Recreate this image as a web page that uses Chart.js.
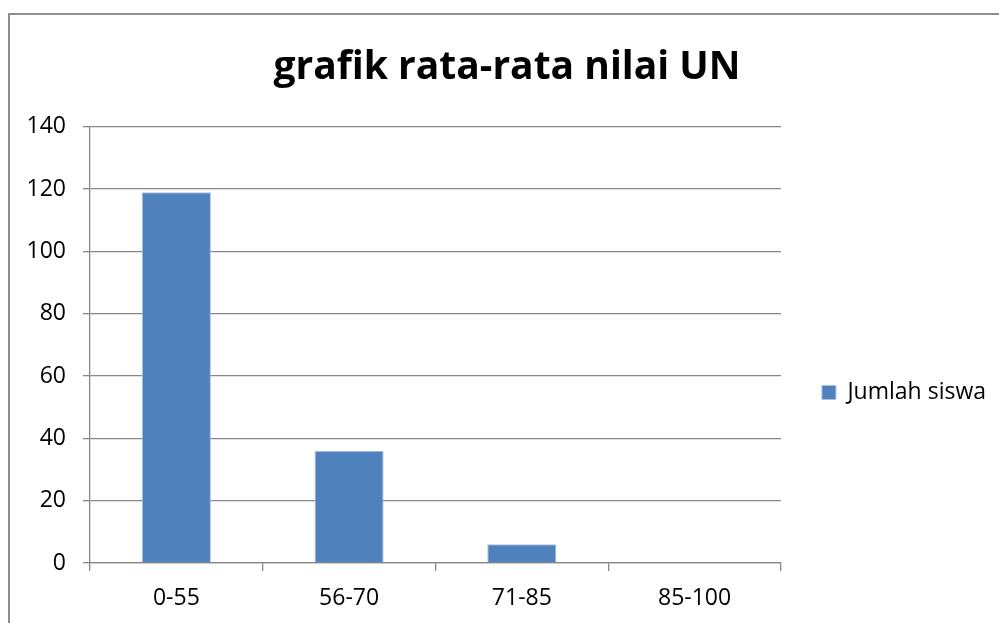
<!DOCTYPE html>
<html>
<head>
<meta charset="utf-8">
<script src="https://cdn.jsdelivr.net/npm/chart.js@4"></script>
<style>
  html, body { margin:0; padding:0; background:#fff; overflow:hidden; }
  #wrap { position:absolute; left:0; top:0; width:999px; height:623px; }
  #frame { position:absolute; left:8px; top:13px; width:1100px; height:700px;
           border:2px solid #8e8e8e; pointer-events:none; box-sizing:border-box; }
</style>
</head>
<body>
<div id="wrap"><canvas id="c" width="999" height="623"></canvas></div>
<div id="frame"></div>
<script>
// data
const categories = ['0-55', '56-70', '71-85', '85-100'];
const jumlahSiswa = [119, 36, 6, 0];
const seriesName = 'Jumlah siswa';
const chartTitle = 'grafik rata-rata nilai UN';

const font = 'Open Sans';
const gridGray = '#878787';

// nudge legend down to where Excel put it
const legendShift = {
  id: 'legendShift',
  afterLayout(chart){
    const l = chart.legend;
    if (!l) return;
    l.top += 81; l.bottom += 81;
  }
};

new Chart(document.getElementById('c'), {
  type: 'bar',
  data: {
    labels: categories,
    datasets: [{
      label: seriesName,
      data: jumlahSiswa,
      backgroundColor: '#4F81BD',
      borderColor: '#a9c1df',
      borderWidth: 1,
      barPercentage: 0.4,
      categoryPercentage: 1
    }]
  },
  options: {
    responsive: false,
    animation: false,
    layout: { padding: { left: 18, right: 3, top: 0, bottom: 0 } },
    plugins: {
      title: {
        display: true,
        text: chartTitle,
        color: '#000',
        font: { family: font, size: 39, weight: 'bold', lineHeight: 1.2 },
        padding: { top: 44, bottom: 36 }
      },
      legend: {
        position: 'right',
        labels: {
          boxWidth: 14, boxHeight: 14, padding: 41,
          color: '#000',
          font: { family: font, size: 23 }
        }
      },
      tooltip: { enabled: false }
    },
    scales: {
      x: {
        afterFit(s){ s.height = 60; },
        grid: { display: true, drawOnChartArea: false, drawTicks: true, tickLength: 8,
                color: gridGray, lineWidth: 1.3, offset: true },
        border: { display: true, color: gridGray, width: 1.3 },
        ticks: { color: '#000', padding: 14, font: { family: font, size: 23 } }
      },
      y: {
        min: 0, max: 140,
        afterFit(s){ s.width = 72; },
        grid: { color: gridGray, lineWidth: 1.3, tickLength: 7 },
        border: { display: true, color: gridGray, width: 1.3 },
        ticks: { stepSize: 20, color: '#000', padding: 17, font: { family: font, size: 23 } }
      }
    }
  },
  plugins: [legendShift]
});
</script>
</body>
</html>
